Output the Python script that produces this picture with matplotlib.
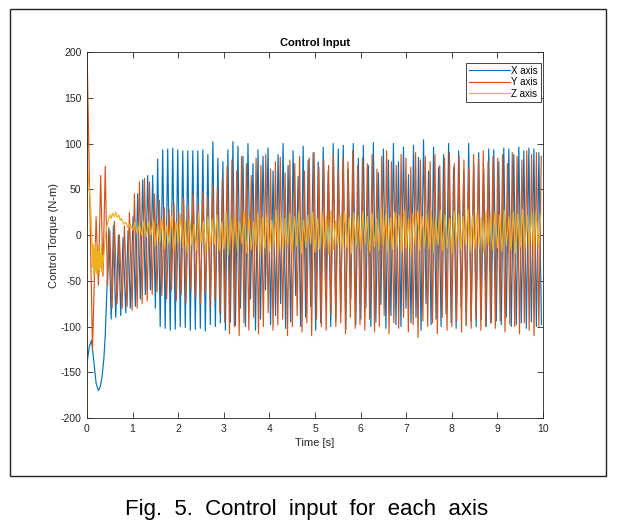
import numpy as np
import matplotlib
matplotlib.use("Agg")
import matplotlib.pyplot as plt
from matplotlib.patches import Rectangle

plt.rcParams['font.family'] = ['Liberation Sans', 'DejaVu Sans']
plt.rcParams['axes.unicode_minus'] = False

# --- X axis: start-up transient (time, value) then steady peaks / troughs
x_t0 = [0, 0.05, 0.1, 0.15, 0.2, 0.25, 0.29, 0.33, 0.37, 0.4, 0.44, 0.48, 0.53, 0.58, 0.63, 0.69, 0.74, 0.79,
        0.85, 0.9, 0.95, 1.01, 1.06, 1.11, 1.17, 1.22, 1.28, 1.33, 1.39, 1.44, 1.5]
x_v0 = [-140, -122, -115, -138, -162, -170, -166, -155, -135, -110, -55, 8, -92, 10, -90, 0, -88, -3,
        -85, 5, -80, 20, -78, 45, -70, 60, -65, 65, -60, 65, -80]
x_start, x_step = 1.55, 0.055
x_peaks = [83, 93, 94, 95, 93, 92, 92, 92, 92, 93, 88, 102, 84, 80, 93, 102,
           97, 86, 100, 78, 93, 86, 95, 70, 88, 100, 76, 92, 64, 97, 82, 90,
           80, 96, 70, 100, 94, 98, 72, 100, 84, 98, 76, 101, 68, 94, 82, 100,
           80, 96, 66, 98, 85, 104, 70, 96, 74, 88, 100, 74, 92, 70, 100, 78,
           90, 72, 94, 93, 80, 95, 94, 88, 96, 92, 95, 94, 90]
x_troughs = [-100, -102, -104, -103, -100, -101, -104, -103, -102, -105, -98, -100, -96, -104, -95, -99,
             -80, -100, -70, -104, -92, -60, -98, -88, -75, -102, -95, -66, -100, -90, -78, -104,
             -96, -72, -100, -94, -85, -103, -70, -98, -92, -80, -100, -95, -76, -102, -88, -98,
             -100, -80, -96, -90, -104, -75, -98, -92, -100, -86, -96, -102, -80, -99, -94, -100,
             -92, -100, -96, -94, -98, -90, -100, -98, -96, -102, -95, -100, -98]

# --- Y axis
y_t0 = [0, 0.12, 0.2, 0.25, 0.3, 0.35, 0.4, 0.45, 0.5, 0.55, 0.6, 0.66, 0.71, 0.77,
        0.82, 0.88, 0.93, 0.99, 1.04, 1.1, 1.15, 1.21, 1.26, 1.32, 1.37, 1.43, 1.48]
y_v0 = [205, -125, 20, -55, 65, -45, 75, -55, 5, -80, 15, -75, 0, -80,
        10, -78, 25, -82, 45, -80, 58, -75, 62, -72, 58, -65, 45]
y_start, y_step = 1.535, 0.053
y_troughs = [-62, -66, -70, -60, -72, -65, -74, -60, -68, -75, -64, -78, -70, -85,
             -95, -108, -100, -110, -96, -104, -90, -108, -100, -85, -104, -98, -92, -110,
             -100, -88, -106, -96, -110, -92, -100, -104, -86, -100, -96, -108, -90, -102,
             -98, -104, -92, -106, -100, -88, -108, -96, -102, -90, -106, -98, -112, -94,
             -100, -96, -108, -90, -104, -100, -94, -106, -98, -102, -92, -104, -100, -96,
             -102, -94, -106, -98, -100, -108, -96, -104, -110, -100]
y_peaks = [38, 30, 28, 35, 25, 40, 32, 45, 35, 48, 42, 55, 50, 62,
           75, 82, 70, 86, 78, 65, 84, 76, 88, 72, 80, 85, 68, 82,
           78, 86, 70, 84, 90, 74, 82, 76, 88, 72, 85, 80, 92, 76,
           84, 78, 88, 72, 86, 92, 80, 76, 88, 84, 74, 90, 82, 86,
           80, 88, 76, 84, 90, 78, 86, 82, 74, 88, 84, 92, 80, 86,
           84, 88, 78, 90, 86, 82, 92, 88, 90, 86]

# --- Z axis
z_t0 = [0, 0.005, 0.01, 0.02, 0.04, 0.06, 0.08, 0.1,
        0.12, 0.135, 0.15, 0.165, 0.18, 0.195, 0.21, 0.225, 0.24, 0.255, 0.27, 0.285,
        0.3, 0.315, 0.33, 0.345, 0.36,
        0.38, 0.4, 0.43, 0.46, 0.5, 0.53, 0.56, 0.6, 0.63, 0.66, 0.7, 0.73, 0.76, 0.8,
        0.85, 0.9, 0.95, 1.0, 1.05, 1.1, 1.15, 1.2, 1.25, 1.3, 1.35, 1.4, 1.45]
z_v0 = [-200, 165, 82, 70, 55, 42, 30, 5,
        -35, -10, -45, -15, -40, -8, -42, -18, -38, -12, -44, -20, -36, -10, -40, -22, -30,
        -15, -2, 8, 15, 22, 18, 24, 20, 25, 19, 22, 16, 18, 12, 14, 8, 12, 5, 14, 2, 12,
        0, 15, -2, 14, 0, 16]
z_start, z_step = 1.5, 0.05
z_troughs = [-12, -8, -15, -10, -18, -9, -14, -20, -11, -16, -8, -19, -13, -10, -17,
             -15, -22, -12, -18, -10, -20, -16, -12, -21, -14, -18, -11, -19, -15, -13,
             -18, -12, -20, -14, -10, -19, -15, -13, -21, -16, -11, -18, -14, -20, -12,
             -16, -10, -19, -13, -17, -11, -20, -15, -12, -18, -14, -21, -10, -17, -13,
             -15, -19, -11, -17, -14, -20, -12, -16, -10, -18, -15, -13, -19, -11, -16,
             -14, -18, -12, -16, -20, -13, -15, -11, -17, -14]
z_peaks = [12, 18, 10, 20, 14, 22, 16, 19, 12, 24, 15, 20, 17, 22, 14,
           25, 18, 22, 15, 26, 20, 14, 24, 19, 22, 16, 27, 20, 18, 24,
           20, 26, 16, 22, 25, 18, 24, 20, 27, 15, 22, 26, 19, 24, 21,
           26, 20, 24, 18, 28, 22, 19, 25, 21, 27, 17, 24, 26, 20, 23,
           25, 19, 27, 22, 18, 26, 23, 20, 28, 21, 24, 19, 26, 22, 25,
           22, 27, 20, 25, 23, 28, 21, 24, 26, 22]


def build(t0, v0, start, step, first, second):
    # interleave the turning points and put them after the transient
    vals = np.ravel(np.column_stack([first, second]))
    t = start + step * np.arange(len(vals))
    return np.concatenate([t0, t]), np.concatenate([v0, vals])


tx, vx = build(x_t0, x_v0, x_start, x_step, x_peaks, x_troughs)
ty, vy = build(y_t0, y_v0, y_start, y_step, y_troughs, y_peaks)
tz, vz = build(z_t0, z_v0, z_start, z_step, z_troughs, z_peaks)

fig = plt.figure(figsize=(6.2, 5.26), dpi=100)
ax = fig.add_axes([87/620, 1-418/526, 456/620, 366/526])

ax.plot(tx, vx, color='#0072BD', lw=0.85, label='X axis')
ax.plot(ty, vy, color='#D95319', lw=0.85, label='Y axis')
ax.plot(tz, vz, color='#EDB120', lw=0.85, label='Z axis')

ax.set_xlim(0, 10)
ax.set_ylim(-200, 200)
ax.set_xticks(range(0, 11))
ax.set_yticks(range(-200, 201, 50))
ax.tick_params(direction='in', top=True, right=True, length=4, width=0.6,
               labelsize=7.5, colors='#262626', pad=4)
for s in ax.spines.values():
    s.set_linewidth(0.6)
    s.set_color('#262626')

ax.set_title('Control Input', fontsize=8, fontweight='bold', pad=4)
ax.set_xlabel('Time [s]', fontsize=8, color='#262626', labelpad=3)
ax.set_ylabel('Control Torque (N-m)', fontsize=8, color='#262626', labelpad=1)

leg = ax.legend(loc='upper right', bbox_to_anchor=(0.9956, 0.970), borderaxespad=0,
                fontsize=7, fancybox=False, framealpha=1, edgecolor='#262626',
                handlelength=4.2, handletextpad=0.2, borderpad=0.3, labelspacing=0.15)
leg.get_frame().set_linewidth(0.6)

fig.add_artist(Rectangle((10/620, 1-476/526), 596/620, 467/526, transform=fig.transFigure,
                         fill=False, ec='#222222', lw=1.0))
fig.text(0.495, 1-510/526, 'Fig.  5.  Control  input  for  each  axis', ha='center', va='center',
         fontsize=16, family=['Liberation Sans Narrow', 'Liberation Sans'])

fig.savefig('out.png', dpi=100)
